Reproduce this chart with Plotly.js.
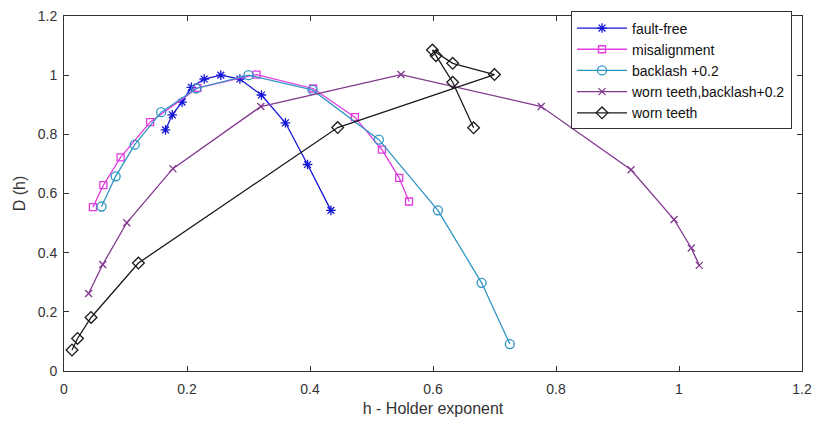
<!DOCTYPE html>
<html>
<head>
<meta charset="utf-8">
<script src="https://cdn.plot.ly/plotly-3.0.1.min.js"></script>
<style>html,body{margin:0;padding:0;background:#fff;}#chart{width:814px;height:421px;}</style>
</head>
<body>
<div id="chart"></div>
<script>
// Data
const faultFreeH = [0.165, 0.176, 0.192, 0.207, 0.228, 0.255, 0.286, 0.321, 0.360, 0.396, 0.434];
const faultFreeD = [0.815, 0.866, 0.909, 0.959, 0.987, 1.000, 0.987, 0.933, 0.839, 0.698, 0.543];

const misalignH = [0.047, 0.064, 0.092, 0.140, 0.217, 0.313, 0.405, 0.473, 0.517, 0.545, 0.561];
const misalignD = [0.554, 0.628, 0.722, 0.841, 0.957, 1.002, 0.955, 0.858, 0.748, 0.653, 0.573];

const backlashH = [0.061, 0.084, 0.115, 0.158, 0.215, 0.300, 0.404, 0.512, 0.608, 0.679, 0.725];
const backlashD = [0.556, 0.658, 0.765, 0.875, 0.955, 1.000, 0.950, 0.782, 0.543, 0.298, 0.091];

const wornBackH = [0.040, 0.063, 0.102, 0.177, 0.320, 0.548, 0.776, 0.922, 0.992, 1.020, 1.033];
const wornBackD = [0.262, 0.360, 0.501, 0.684, 0.894, 1.002, 0.894, 0.680, 0.512, 0.416, 0.357];

const wornH = [0.013, 0.022, 0.044, 0.121, 0.445, 0.700, 0.632, 0.599, 0.605, 0.632, 0.666];
const wornD = [0.071, 0.110, 0.181, 0.365, 0.823, 1.002, 1.040, 1.085, 1.066, 0.976, 0.822];

const seriesNames = ['fault-free', 'misalignment', 'backlash +0.2', 'worn teeth,backlash+0.2', 'worn teeth'];
const xTicks = [0, 0.2, 0.4, 0.6, 0.8, 1, 1.2];
const yTicks = [0, 0.2, 0.4, 0.6, 0.8, 1, 1.2];

function tr(x, y, name, color, symbol, msize) {
  return {
    x: x, y: y, name: name, type: 'scatter', mode: 'lines+markers',
    line: {color: color, width: 1.3},
    marker: {symbol: symbol, size: msize, color: color, line: {color: color, width: 1.3}}
  };
}

const data = [
  tr(faultFreeH, faultFreeD, seriesNames[0], '#1414d8', 'asterisk-open', 8),
  tr(misalignH, misalignD, seriesNames[1], '#e03ce0', 'square-open', 7),
  tr(backlashH, backlashD, seriesNames[2], '#2e95c4', 'circle-open', 9),
  tr(wornBackH, wornBackD, seriesNames[3], '#82388f', 'x-thin-open', 7),
  tr(wornH, wornD, seriesNames[4], '#1a1a1a', 'diamond-open', 9)
];

const FONT = 'Liberation Sans, Arial, sans-serif';
const axisCommon = {
  showgrid: false, zeroline: false, showline: true, mirror: 'ticks',
  linecolor: '#333', linewidth: 1, ticks: 'inside', ticklen: 5, tickcolor: '#333',
  tickfont: {family: FONT, size: 14, color: '#333'}
};

const layout = {
  width: 814, height: 421,
  margin: {l: 64, r: 12, t: 15, b: 50},
  paper_bgcolor: '#fff', plot_bgcolor: '#fff',
  font: {family: FONT, color: '#333'},
  xaxis: Object.assign({}, axisCommon, {
    range: [0, 1.2], tickvals: xTicks, ticktext: xTicks.map(String),
    ticklabelstandoff: 5,
    title: {text: 'h - Holder exponent', font: {size: 16, color: '#333'}, standoff: 7}
  }),
  yaxis: Object.assign({}, axisCommon, {
    range: [0, 1.2], tickvals: yTicks, ticktext: yTicks.map(String),
    ticklabelstandoff: 3,
    title: {text: 'D (h)', font: {size: 16, color: '#333'}, standoff: 8}
  }),
  showlegend: true,
  legend: {
    x: 0.687, y: 1.01, xanchor: 'left', yanchor: 'top',
    bgcolor: '#fff', bordercolor: '#333', borderwidth: 1,
    font: {size: 14, color: '#111', family: FONT},
    tracegroupgap: 0, itemwidth: 50
  }
};

Plotly.newPlot('chart', data, layout, {displayModeBar: false, staticPlot: true});
</script>
</body>
</html>
